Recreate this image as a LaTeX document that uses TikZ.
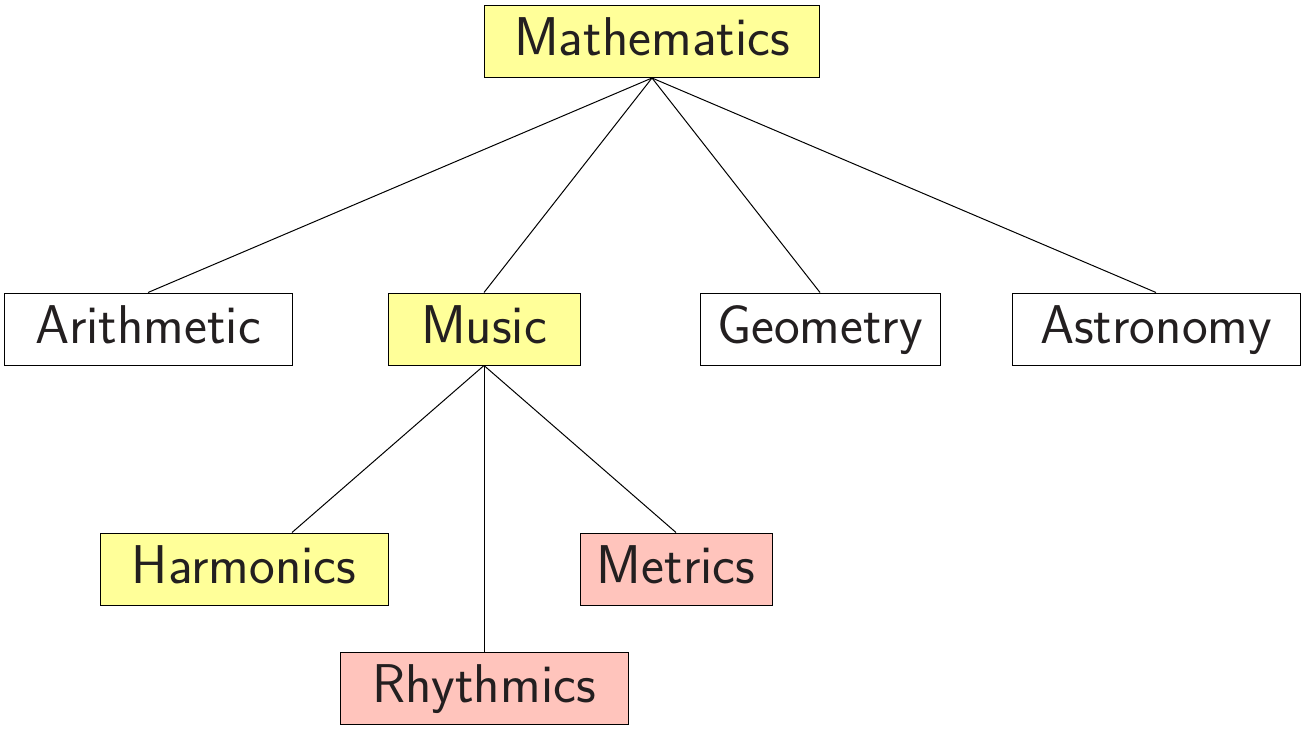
\documentclass[tikz,border=0pt]{standalone}
\definecolor{boxyellow}{RGB}{255,255,153}
\definecolor{boxpink}{RGB}{255,196,188}
\definecolor{txt}{RGB}{35,31,32}
\begin{document}
\begin{tikzpicture}[x=1pt,y=1pt,
  box/.style={draw, line width=0.5pt, inner sep=0pt, minimum height=36pt,
    font=\fontsize{27.3}{31}\selectfont\sffamily, text=txt,
    text height=19pt, text depth=4.6pt},
  w4/.style={minimum width=96pt},
  w5/.style={minimum width=120pt},
  w6/.style={minimum width=144pt},
  w7/.style={minimum width=167.5pt},
  ylw/.style={fill=boxyellow},
  pnk/.style={fill=boxpink},
  edge/.style={line width=0.5pt}]
\useasboundingbox (0,0) rectangle (652,-364);
\node[box,w7,ylw] (math) at (326,-20.75) {Mathematics};
\node[box,w6] (arith) at (74,-164.5) {Arithmetic};
\node[box,w4,ylw] (music) at (242,-164.5) {Music};
\node[box,w5] (geom) at (410,-164.5) {Geometry};
\node[box,w6] (astro) at (578,-164.5) {Astronomy};
\node[box,w6,ylw] (harm) at (122,-284.5) {Harmonics};
\node[box,w4,pnk] (metr) at (338,-284.5) {Metrics};
\node[box,w6,pnk] (rhyt) at (242,-344.25) {Rhythmics};
\coordinate (harmtop) at ([xshift=24pt]harm.north);
\draw[edge] (math.south) -- (arith.north);
\draw[edge] (math.south) -- (music.north);
\draw[edge] (math.south) -- (geom.north);
\draw[edge] (math.south) -- (astro.north);
\draw[edge] (music.south) -- (harmtop);
\draw[edge] (music.south) -- (rhyt.north);
\draw[edge] (music.south) -- (metr.north);
\end{tikzpicture}
\end{document}
